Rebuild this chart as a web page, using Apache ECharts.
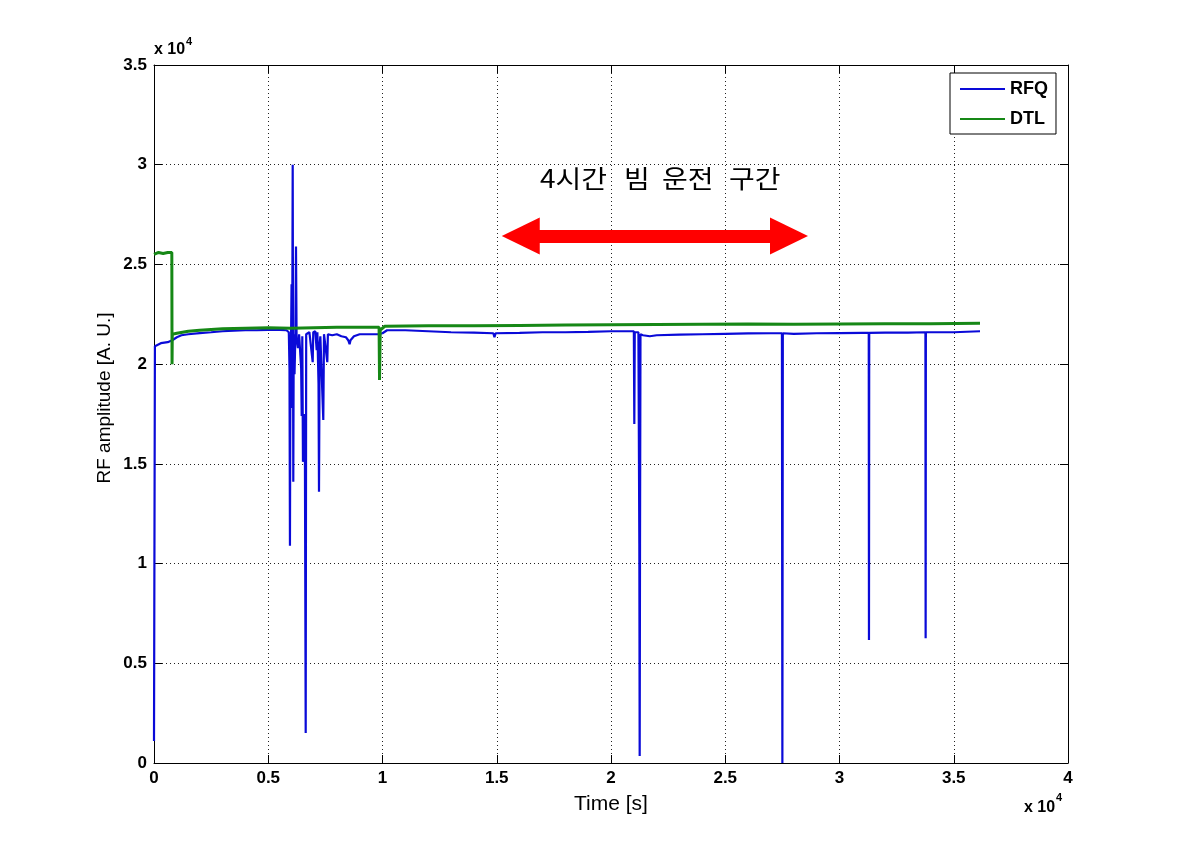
<!DOCTYPE html>
<html><head><meta charset="utf-8">
<script src="https://cdn.jsdelivr.net/npm/echarts@6/dist/echarts.min.js"></script>
<style>html,body{margin:0;padding:0;background:#fff}#c{width:1181px;height:857px}</style>
</head><body><div id="c"></div>
<script>
// Time [s] vs RF amplitude [A.U.]
const rfqData = [
  [0,1100],[40,20900],[300,21050],[600,21100],[800,21200],[1000,21350],[1200,21450],[1500,21500],
  [2000,21560],[2500,21600],[3000,21650],[3500,21680],[4000,21700],[4500,21700],[5000,21720],[5500,21720],
  [5800,21700],[5900,21600],[5930,19800],[5950,10900],[5970,20000],[6000,21500],[6020,24000],[6035,17800],
  [6050,21600],[6070,30000],[6085,21000],[6096,14100],[6115,21500],[6150,19500],[6190,21600],[6214,25900],
  [6240,21300],[6300,20800],[6350,21500],[6400,21600],[6440,19800],[6464,17400],[6490,21400],[6520,15100],
  [6560,15100],[6600,17500],[6639,1500],[6660,21500],[6800,21600],[6945,20100],[6970,21600],[7060,21650],
  [7120,20700],[7150,21600],[7200,19000],[7221,13600],[7250,21000],[7280,21400],[7409,17200],[7440,21500],
  [7584,20100],[7610,21500],[7800,21450],[8000,21500],[8200,21400],[8400,21350],[8500,21200],[8560,21000],
  [8600,21200],[8750,21400],[9000,21500],[9500,21500],[9800,21500],[10000,21550],[10200,21700],[11000,21700],
  [12000,21650],[13000,21600],[14000,21580],[14850,21550],[14900,21350],[14950,21550],[16000,21570],[17000,21600],
  [18000,21600],[19000,21620],[20000,21650],[21000,21650],[21020,17000],[21040,21600],[21200,21600],[21240,11000],
  [21255,350],[21270,11000],[21290,21500],[21400,21450],[21700,21400],[22000,21450],[23000,21480],[24000,21500],
  [25000,21520],[26000,21540],[27000,21550],[27480,21550],[27500,0],[27520,21550],[28000,21520],[29000,21550],
  [30000,21560],[31000,21570],[31280,21570],[31290,6170],[31300,21570],[32000,21580],[33000,21580],[33760,21600],
  [33770,6250],[33780,21600],[34500,21600],[35000,21600],[36150,21650]
];
const dtlData = [
  [0,25500],[200,25600],[400,25550],[600,25600],[780,25600],[790,20000],[800,21500],[1000,21550],
  [1500,21650],[2000,21700],[3000,21780],[4000,21800],[5000,21820],[6000,21800],[7000,21830],[8000,21850],
  [9000,21850],[9850,21850],[9870,19200],[9900,21700],[10100,21900],[12000,21920],[14000,21920],[16000,21940],
  [18000,21960],[20000,21980],[22000,21990],[24000,22000],[26000,22010],[28000,22000],[30000,22010],[32000,22020],
  [34000,22030],[36150,22050]
];
const xTickLabels = ['0','0.5','1','1.5','2','2.5','3','3.5','4'];
const yTickLabels = ['0','0.5','1','1.5','2','2.5','3','3.5'];
const arrowSpan = [[16050,26430],[27790,26430]];
const annotationWords = ['4시간','빔','운전','구간'];

const FONT = '"Liberation Sans", Arial, sans-serif';
const KFONT = '"Noto Sans CJK KR", sans-serif';
const chart = echarts.init(document.getElementById('c'), null, {renderer:'canvas'});

const dotted = {show:true, lineStyle:{color:'#222', type:[1,3], width:1}};
const axLine = {show:true, onZero:false, lineStyle:{color:'#000', width:1}};
const tick = {show:true, inside:true, length:8, lineStyle:{color:'#000', width:1}};

const wordX = [540, 624, 662, 729];

chart.setOption({
  animation:false,
  backgroundColor:'#fff',
  grid:{left:154, top:65, right:113, bottom:94, containLabel:false},
  xAxis:[
    {type:'value', min:0, max:40000, interval:5000, position:'bottom',
     axisLine:axLine, axisTick:tick, splitLine:dotted,
     axisLabel:{color:'#000', fontSize:17, fontWeight:'bold', fontFamily:FONT, margin:7,
       formatter:v=>xTickLabels[Math.round(v/5000)]},
     name:'Time [s]', nameLocation:'middle', nameGap:31,
     nameTextStyle:{color:'#000', fontSize:21, fontFamily:FONT}},
    {type:'value', min:0, max:40000, interval:5000, position:'top',
     axisLine:axLine, axisTick:tick, splitLine:{show:false}, axisLabel:{show:false}}
  ],
  yAxis:[
    {type:'value', min:0, max:35000, interval:5000, position:'left',
     axisLine:axLine, axisTick:tick, splitLine:dotted,
     axisLabel:{color:'#000', fontSize:17, fontWeight:'bold', fontFamily:FONT, margin:7,
       formatter:v=>yTickLabels[Math.round(v/5000)]}},
    {type:'value', min:0, max:35000, interval:5000, position:'right',
     axisLine:axLine, axisTick:tick, splitLine:{show:false}, axisLabel:{show:false}}
  ],
  legend:{
    data:['RFQ','DTL'], orient:'vertical', left:950, top:73,
    padding:[7,8,6,10], itemGap:12, itemWidth:45, itemHeight:2, icon:'rect',
    backgroundColor:'#fff', borderColor:'#000', borderWidth:1, borderRadius:0,
    textStyle:{color:'#000', fontSize:18, fontWeight:'bold', fontFamily:FONT}
  },
  series:[
    {name:'RFQ', type:'line', data:rfqData, symbol:'none', showSymbol:false,
     color:'#0a0ad8', lineStyle:{color:'#0a0ad8', width:2.2}, z:2},
    {name:'DTL', type:'line', data:dtlData, symbol:'none', showSymbol:false,
     color:'#168816', lineStyle:{color:'#168816', width:3}, z:3},
    {name:'arrow', type:'line', data:[], z:5,
     markLine:{silent:true, symbol:['triangle','triangle'], symbolSize:[37,38],
       label:{show:false}, lineStyle:{color:'#ff0000', width:13, type:'solid'},
       emphasis:{disabled:true},
       data:[[{coord:arrowSpan[0]},{coord:arrowSpan[1]}]]}}
  ],
  graphic:[
    {type:'text', x:105, y:398, rotation:Math.PI/2,
     style:{text:'RF amplitude [A. U.]', fill:'#000', fontSize:19, fontFamily:FONT, align:'center', verticalAlign:'middle'}},
    {type:'text', x:154, y:58, style:{text:'x 10', fill:'#000', fontSize:16, fontWeight:'bold', fontFamily:FONT, align:'left', verticalAlign:'bottom'}},
    {type:'text', x:186, y:36, style:{text:'4', fill:'#000', fontSize:11, fontWeight:'bold', fontFamily:FONT, align:'left', verticalAlign:'top'}},
    {type:'text', x:1024, y:816, style:{text:'x 10', fill:'#000', fontSize:16, fontWeight:'bold', fontFamily:FONT, align:'left', verticalAlign:'bottom'}},
    {type:'text', x:1056, y:792, style:{text:'4', fill:'#000', fontSize:11, fontWeight:'bold', fontFamily:FONT, align:'left', verticalAlign:'top'}}
  ].concat(annotationWords.map((w,i)=>({
    type:'text', x:wordX[i], y:178, scaleX:1.12,
    style:{text:w, fill:'#000', fontSize:25, fontFamily:KFONT, align:'left', verticalAlign:'middle'}
  })))
});
</script></body></html>
